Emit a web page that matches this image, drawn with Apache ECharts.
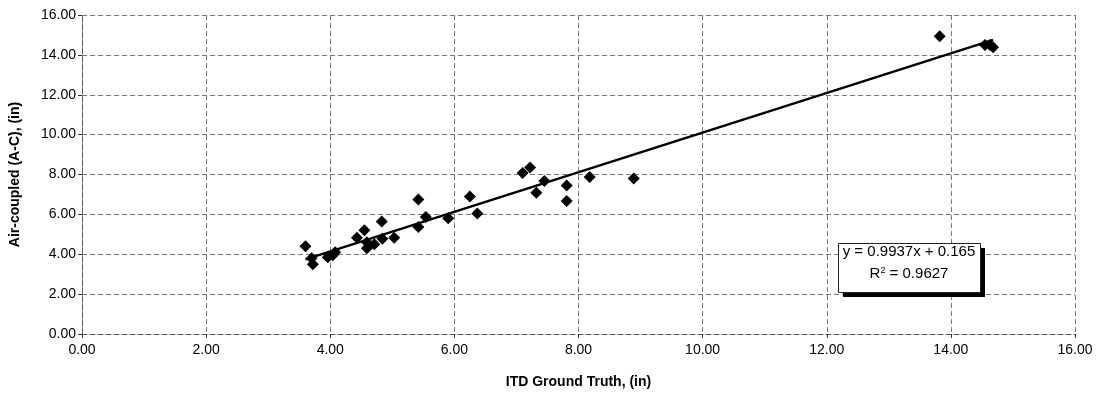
<!DOCTYPE html>
<html>
<head>
<meta charset="utf-8">
<script src="https://cdn.jsdelivr.net/npm/echarts@6/dist/echarts.min.js"></script>
<style>
html,body{margin:0;padding:0;background:#fff;}
#chart{width:1098px;height:400px;}
</style>
</head>
<body>
<div id="chart"></div>
<script>
// Data (ITD Ground Truth vs Air-coupled, inches)
const groundTruth = [3.60, 3.70, 3.72, 3.96, 4.04, 4.08, 4.43, 4.55, 4.59, 4.59, 4.71, 4.83, 4.84, 5.03, 5.42, 5.42, 5.54, 5.90, 6.25, 6.37, 7.10, 7.22, 7.32, 7.45, 7.81, 7.81, 8.18, 8.89, 13.82, 14.55, 14.63, 14.68];
const airCoupled  = [4.40, 3.80, 3.50, 3.85, 3.95, 4.10, 4.83, 5.20, 4.30, 4.60, 4.50, 5.64, 4.78, 4.83, 6.75, 5.37, 5.87, 5.80, 6.90, 6.05, 8.08, 8.35, 7.08, 7.68, 7.45, 6.67, 7.88, 7.80, 14.93, 14.50, 14.50, 14.38];
const slope = 0.9937;
const intercept = 0.165;
const rSquared = 0.9627;
const xTicks = [0, 2, 4, 6, 8, 10, 12, 14, 16];
const yTicks = [0, 2, 4, 6, 8, 10, 12, 14, 16];

const points = groundTruth.map((x, i) => [x, airCoupled[i]]);
const xMin = Math.min(...groundTruth), xMax = Math.max(...groundTruth);
const trend = [[xMin, slope * xMin + intercept], [xMax, slope * xMax + intercept]];

const font = '"Liberation Sans", Arial, sans-serif';
const gridLine = { show: true, lineStyle: { color: '#777', type: [5, 3], width: 1 } };

const chart = echarts.init(document.getElementById('chart'), null, { renderer: 'canvas' });
chart.setOption({
  backgroundColor: '#ffffff',
  animation: false,
  grid: { left: 82, right: 23, top: 15, bottom: 66, containLabel: false },
  xAxis: {
    type: 'value', min: xTicks[0], max: xTicks[xTicks.length - 1], interval: 2,
    name: 'ITD Ground Truth, (in)', nameLocation: 'middle', nameGap: 41,
    nameTextStyle: { fontFamily: font, fontWeight: 'bold', fontSize: 14, color: '#000' },
    axisLine: { show: true, lineStyle: { color: '#555', type: [5, 3] } },
    axisTick: { show: true, length: 4, lineStyle: { color: '#333' } },
    axisLabel: { fontFamily: font, fontSize: 14, color: '#000', margin: 9, formatter: v => v.toFixed(2) },
    splitLine: gridLine
  },
  yAxis: {
    type: 'value', min: yTicks[0], max: yTicks[yTicks.length - 1], interval: 2,
    name: 'Air-coupled (A-C), (in)', nameLocation: 'middle', nameGap: 60,
    nameTextStyle: { fontFamily: font, fontWeight: 'bold', fontSize: 14, color: '#000' },
    axisLine: { show: true, lineStyle: { color: '#555', type: [5, 3] } },
    axisTick: { show: true, length: 4, lineStyle: { color: '#333' } },
    axisLabel: { fontFamily: font, fontSize: 14, color: '#000', margin: 6, formatter: v => v.toFixed(2) },
    splitLine: gridLine
  },
  series: [
    {
      type: 'line', data: trend, symbol: 'none', silent: true,
      lineStyle: { color: '#000', width: 2.5 }, z: 3
    },
    {
      type: 'scatter', data: points, symbol: 'diamond', symbolSize: 12,
      itemStyle: { color: '#000', opacity: 1 }, z: 4
    }
  ],
  graphic: [
    { type: 'rect', left: 843, top: 248, shape: { width: 142, height: 49 }, style: { fill: '#000' }, z: 10 },
    { type: 'rect', left: 838, top: 243, shape: { width: 142, height: 49 }, style: { fill: '#fff', stroke: '#222', lineWidth: 1 }, z: 11 },
    { type: 'text', x: 909, y: 252, z: 12,
      style: { text: 'y = ' + slope + 'x + ' + intercept, font: '15px "Liberation Sans", Arial, sans-serif', fill: '#000', textAlign: 'center', textVerticalAlign: 'middle' } },
    { type: 'text', x: 909, y: 274, z: 12,
      style: { rich: { b: { fontSize: 15, fontFamily: font, fill: '#000' }, s: { fontSize: 9, fontFamily: font, fill: '#000', verticalAlign: 'top', padding: [0, 0, 7, 0] } },
               text: '{b|R}{s|2}{b| = ' + rSquared + '}', textAlign: 'center', textVerticalAlign: 'middle' } }
  ]
});
</script>
</body>
</html>
